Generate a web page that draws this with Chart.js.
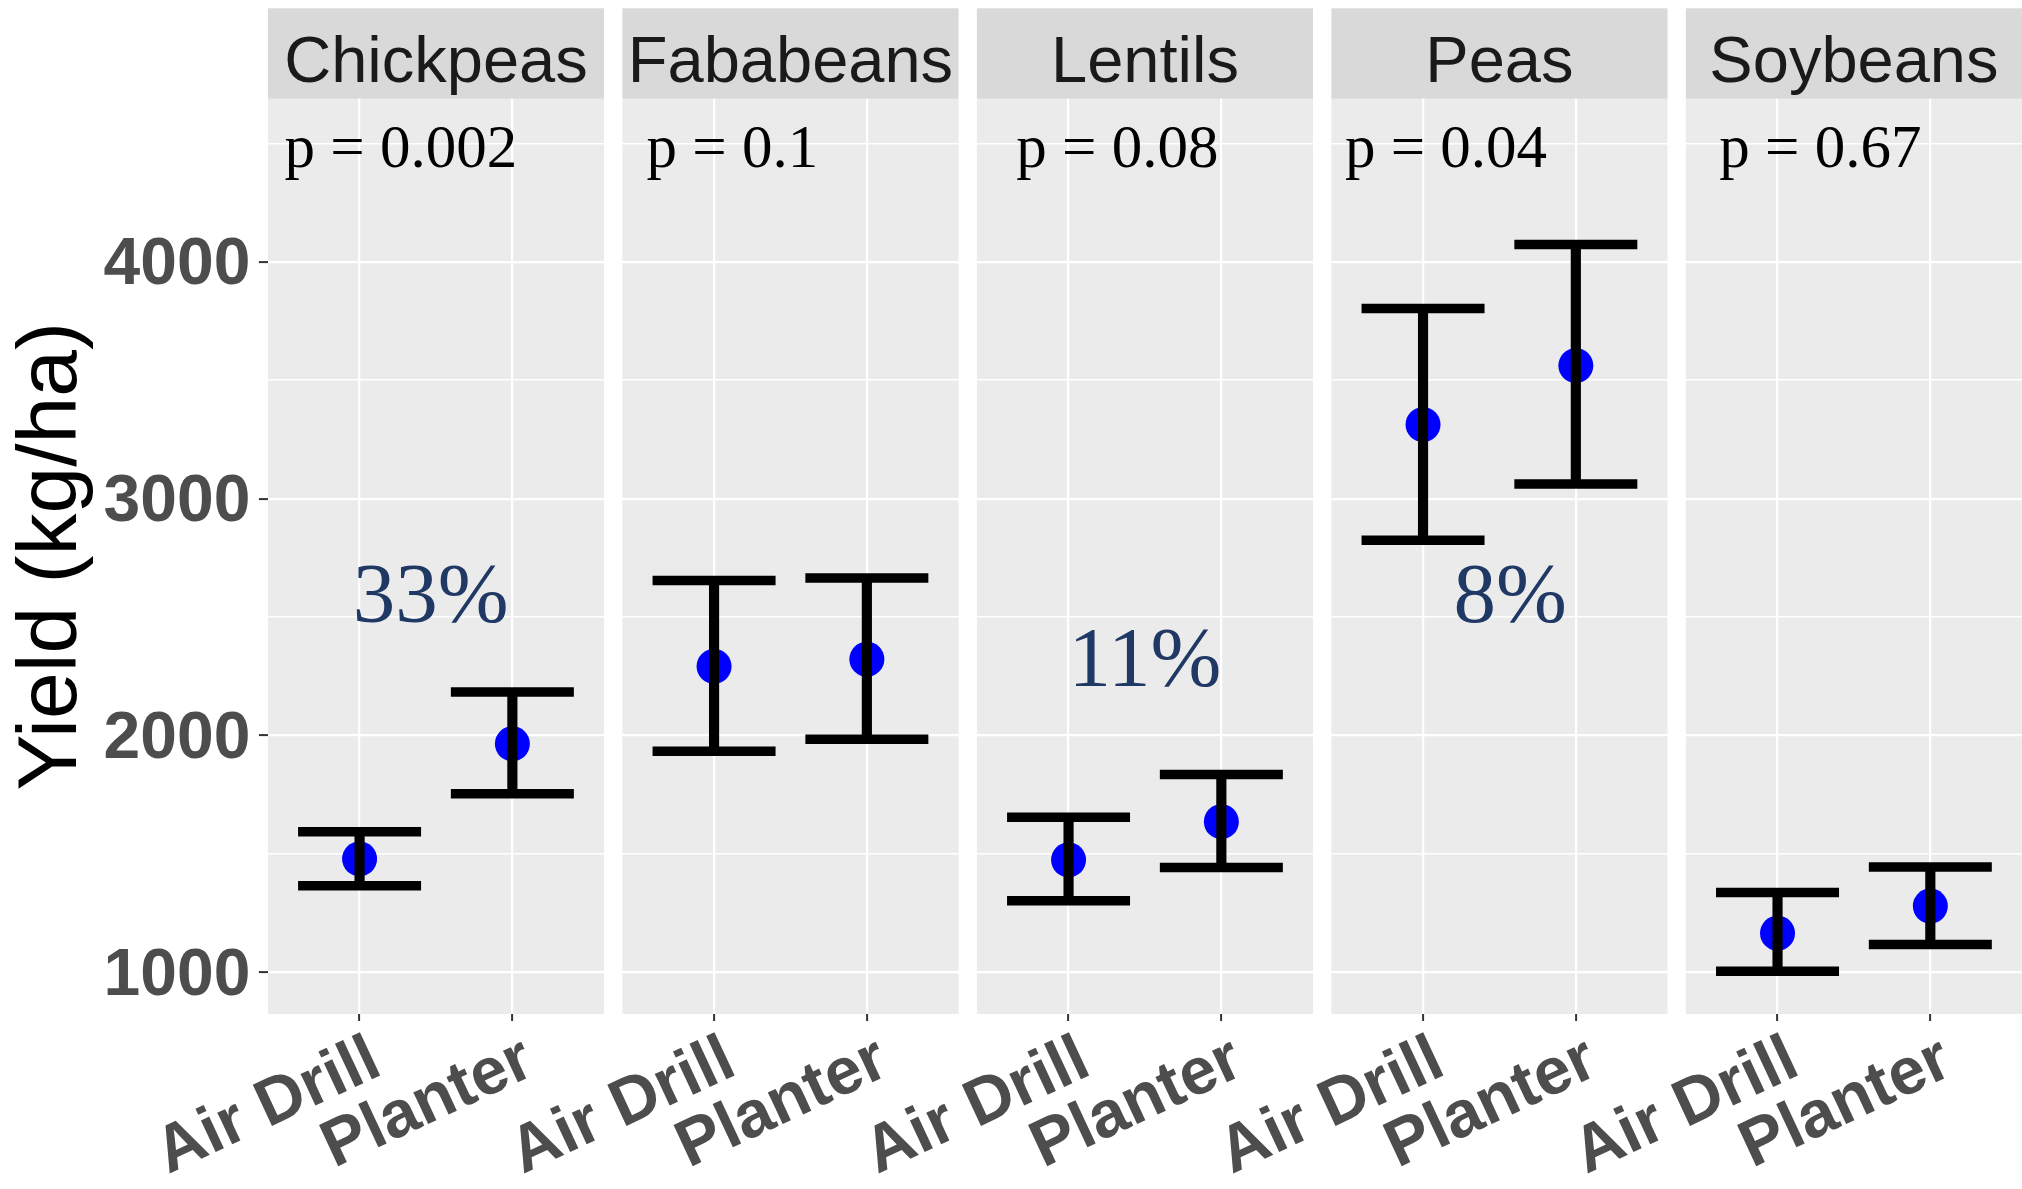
<!DOCTYPE html>
<html>
<head>
<meta charset="utf-8">
<title>Yield by seeding method</title>
<script src="https://cdn.jsdelivr.net/npm/chart.js@4.4.1/dist/chart.umd.min.js"></script>
<style>
  html, body { margin: 0; padding: 0; background: #ffffff; }
  canvas { display: block; }
</style>
</head>
<body>
<canvas id="yieldChart" width="2022" height="1189"></canvas>
<script>
// ---- data ----
const crops = ['Chickpeas', 'Fababeans', 'Lentils', 'Peas', 'Soybeans'];
const methods = ['Air Drill', 'Planter'];

const airDrillMean = [1479, 2292, 1475, 3313, 1165];
const airDrillLow  = [1366, 1933, 1302, 2824, 1005];
const airDrillHigh = [1594, 2655, 1655, 3803, 1337];

const planterMean  = [1965, 2322, 1636, 3562, 1280];
const planterLow   = [1754, 1984, 1443, 3062, 1117];
const planterHigh  = [2184, 2665, 1835, 4073, 1445];

const pLabels    = ['p = 0.002', 'p = 0.1', 'p = 0.08', 'p = 0.04', 'p = 0.67'];
const gainLabels = ['33%', '', '11%', '8%', ''];

const yMajorTicks = [1000, 2000, 3000, 4000];
const yMinorTicks = [1500, 2500, 3500, 4500];

// ---- facet layout (x in category units inside each panel) ----
const PANEL_STEP = 2.32;          // distance between panel origins
const PANEL_LO = 0.4, PANEL_HI = 2.6;
const pLabelX = [1.27, 1.12, 1.32, 1.15, 1.28];
const pLabelY = 4470;
const gainLabelX = [1.465, 1.5, 1.5, 1.57, 1.5];
const gainLabelY = [2572, 2300, 2302, 2572, 2300];

const SANS = '"Liberation Sans", Arial, sans-serif';
const SERIF = '"Liberation Serif", "Times New Roman", serif';

const catX = (i, j) => i * PANEL_STEP + 1 + j;

const series = [
  [airDrillMean, airDrillLow, airDrillHigh],
  [planterMean, planterLow, planterHigh]
];

const meanPts = [], rangeBars = [], capPts = [], tickPositions = [];
crops.forEach((crop, i) => {
  series.forEach(([m, lo, hi], j) => {
    const x = catX(i, j);
    tickPositions.push(x);
    meanPts.push({ x, y: m[i] });
    rangeBars.push({ x, y: [lo[i], hi[i]] });
    capPts.push({ x, y: lo[i] }, { x, y: hi[i] });
  });
});

const gridValues = [...yMajorTicks, ...yMinorTicks].sort((a, b) => a - b);
const isMajor = v => yMajorTicks.includes(v);

// panel backgrounds + strip headers
const facetPanels = {
  id: 'facetPanels',
  beforeDraw(chart) {
    const { ctx, chartArea, scales: { x } } = chart;
    const stripH = 90.4;
    ctx.save();
    crops.forEach((name, i) => {
      const l = x.getPixelForValue(i * PANEL_STEP + PANEL_LO);
      const r = x.getPixelForValue(i * PANEL_STEP + PANEL_HI);
      ctx.fillStyle = '#EBEBEB';
      ctx.fillRect(l, chartArea.top, r - l, chartArea.bottom - chartArea.top);
      ctx.fillStyle = '#D9D9D9';
      ctx.fillRect(l, chartArea.top - stripH, r - l, stripH);
      ctx.fillStyle = '#1A1A1A';
      ctx.font = '65px ' + SANS;
      ctx.textAlign = 'center';
      ctx.textBaseline = 'alphabetic';
      ctx.fillText(name, (l + r) / 2, chartArea.top - 16.4);
    });
    ctx.restore();
  }
};

// p-values and relative gains written inside the panels
const panelNotes = {
  id: 'panelNotes',
  afterDatasetsDraw(chart) {
    const { ctx, scales: { x, y } } = chart;
    ctx.save();
    ctx.textAlign = 'center';
    ctx.textBaseline = 'middle';
    crops.forEach((crop, i) => {
      ctx.fillStyle = '#000000';
      ctx.font = '61px ' + SERIF;
      ctx.fillText(pLabels[i], x.getPixelForValue(i * PANEL_STEP + pLabelX[i]), y.getPixelForValue(pLabelY));
      if (gainLabels[i]) {
        ctx.fillStyle = '#1F3864';
        ctx.font = '85px ' + SERIF;
        ctx.fillText(gainLabels[i], x.getPixelForValue(i * PANEL_STEP + gainLabelX[i]), y.getPixelForValue(gainLabelY[i]));
      }
    });
    ctx.restore();
  }
};

new Chart(document.getElementById('yieldChart'), {
  type: 'bar',
  data: {
    datasets: [
      {
        type: 'scatter',
        label: 'Mean yield',
        data: meanPts,
        pointRadius: 17.5,
        pointHoverRadius: 17.5,
        pointBackgroundColor: '#0000FF',
        pointBorderWidth: 0,
        pointBorderColor: '#0000FF',
        order: 3
      },
      {
        type: 'bar',
        label: 'Interval',
        data: rangeBars,
        backgroundColor: '#000000',
        borderWidth: 0,
        barThickness: 9.5,
        order: 2
      },
      {
        type: 'scatter',
        label: 'Interval caps',
        data: capPts,
        pointStyle: 'line',
        pointRadius: 61.5,
        pointHoverRadius: 61.5,
        pointBorderColor: '#000000',
        pointBorderWidth: 9.5,
        order: 1
      }
    ]
  },
  options: {
    responsive: false,
    animation: false,
    devicePixelRatio: 1,
    layout: { autoPadding: false, padding: { top: 98.7, right: 0, bottom: 0, left: 0 } },
    plugins: {
      legend: { display: false },
      tooltip: { enabled: false }
    },
    scales: {
      x: {
        type: 'linear',
        min: PANEL_LO,
        max: (crops.length - 1) * PANEL_STEP + PANEL_HI,
        offset: false,
        afterBuildTicks: s => { s.ticks = tickPositions.map(v => ({ value: v })); },
        afterFit: s => { s.height = 175; },
        border: { display: false },
        grid: {
          offset: false,
          color: '#FFFFFF',
          lineWidth: 2.2,
          drawTicks: true,
          tickLength: 7,
          tickColor: '#333333',
          tickWidth: 2
        },
        ticks: {
          autoSkip: false,
          minRotation: 25,
          maxRotation: 25,
          padding: 0,
          labelOffset: 17,
          color: '#4D4D4D',
          font: { family: SANS, size: 66, weight: 'bold' },
          callback: (v, idx) => methods[idx % 2]
        }
      },
      y: {
        type: 'linear',
        min: 824,
        max: 4689,
        afterBuildTicks: s => { s.ticks = gridValues.map(v => ({ value: v })); },
        afterFit: s => { s.width = 267.9; },
        border: { display: false },
        grid: {
          color: '#FFFFFF',
          lineWidth: c => (c.tick && isMajor(c.tick.value)) ? 2.2 : 1.6,
          drawTicks: true,
          tickLength: 9,
          tickWidth: 2,
          tickColor: c => (c.tick && isMajor(c.tick.value)) ? '#333333' : 'rgba(0,0,0,0)'
        },
        ticks: {
          padding: 8.5,
          labelOffset: 4,
          color: '#4D4D4D',
          font: { family: SANS, size: 66, weight: 'bold' },
          callback: v => isMajor(v) ? String(v) : ''
        },
        title: {
          display: true,
          text: 'Yield (kg/ha)',
          color: '#000000',
          font: { family: SANS, size: 84, lineHeight: 1 },
          padding: { top: 11, bottom: 0 }
        }
      }
    }
  },
  plugins: [facetPanels, panelNotes]
});
</script>
</body>
</html>
